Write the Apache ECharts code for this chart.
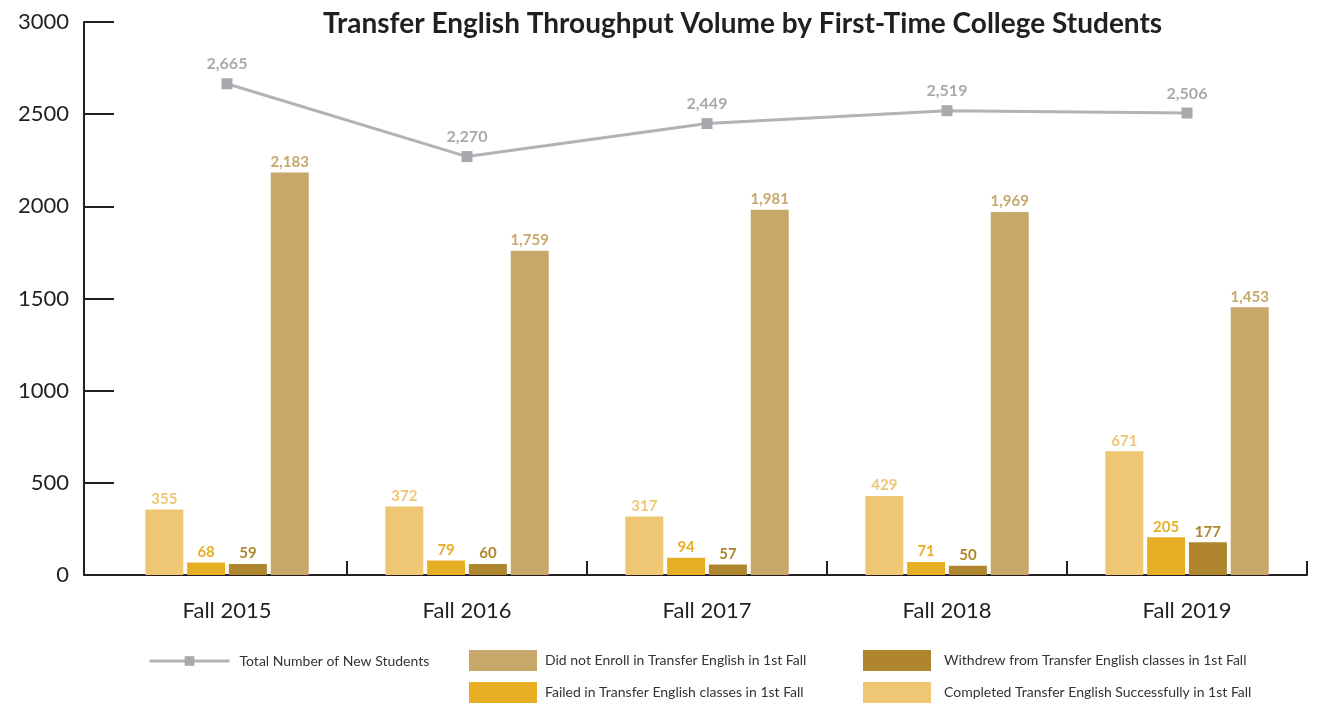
<!DOCTYPE html>
<html>
<head>
<meta charset="utf-8">
<script src="https://cdn.jsdelivr.net/npm/echarts@6/dist/echarts.min.js"></script>
<style>
  html, body { margin: 0; padding: 0; background: #fff; }
  #main { width: 1317px; height: 704px; }
</style>
</head>
<body>
<div id="main"></div>
<script>
// data
var categories = ["Fall 2015", "Fall 2016", "Fall 2017", "Fall 2018", "Fall 2019"];
var completed = [355, 372, 317, 429, 671];
var failed = [68, 79, 94, 71, 205];
var withdrew = [59, 60, 57, 50, 177];
var notEnrolled = [2183, 1759, 1981, 1969, 1453];
var totalNew = [2665, 2270, 2449, 2519, 2506];

var FONT = "Lato";
var DARK = "#231F20";

function fmt(p) { return Number(p.value).toLocaleString("en-US"); }

function barSeries(name, data, color) {
    return {
        name: name, type: "bar", xAxisIndex: 1, yAxisIndex: 1,
        data: data, barWidth: 38, barGap: "10%",
        itemStyle: { color: color },
        label: { show: true, position: "top", distance: 3, formatter: fmt,
                 color: color, fontFamily: FONT, fontWeight: "bold", fontSize: 15 }
    };
}

// legend boxes have 5px padding, so positions are shifted by it
function legendAt(name, left, top, w, h, pad) {
    return {
        data: [name], left: left - 5, top: top - 5, itemWidth: w, itemHeight: h,
        icon: w === 68 ? "rect" : undefined,
        lineStyle: { width: 3 },
        textStyle: { fontFamily: FONT, fontSize: 14, color: "#333", padding: [0, 0, 0, pad] }
    };
}

window.onload = function () {
    var chart = echarts.init(document.getElementById("main"));
    var option = {
        animation: false,
        textStyle: { fontFamily: FONT },
        title: {
            text: "Transfer English Throughput Volume by First-Time College Students",
            left: 318, top: 5,
            textStyle: { fontFamily: FONT, fontSize: 28, fontWeight: "bold", color: DARK }
        },
        legend: [
            legendAt("Total Number of New Students", 148, 654, 80, 12, 5),
            legendAt("Did not Enroll in Transfer English in 1st Fall", 469, 650, 68, 21, 3),
            legendAt("Failed in Transfer English classes in 1st Fall", 469, 682, 68, 21, 3),
            legendAt("Withdrew from Transfer English classes in 1st Fall", 863, 650, 68, 21, 8),
            legendAt("Completed Transfer English Successfully in 1st Fall", 863, 682, 68, 21, 8)
        ],
        grid: [
            { left: 84, right: 10, top: 22, bottom: 129 },
            { left: 107, right: 10, top: 22, bottom: 129 }
        ],
        xAxis: [
            { type: "value", gridIndex: 0, min: 0, max: 1,
              axisLine: { show: true, lineStyle: { color: DARK, width: 2 } },
              axisTick: { show: false }, axisLabel: { show: false }, splitLine: { show: false } },
            { type: "category", gridIndex: 1, data: categories,
              axisLine: { show: false },
              axisTick: { show: true, inside: true, length: 14,
                          interval: function (i) { return i !== 0; },
                          lineStyle: { color: DARK, width: 2 } },
              axisLabel: { fontFamily: FONT, fontSize: 22, color: DARK, margin: 25 } }
        ],
        yAxis: [
            { type: "value", gridIndex: 0, min: 0, max: 3000, interval: 500,
              axisLine: { show: true, lineStyle: { color: DARK, width: 2 } },
              axisTick: { show: true, inside: true, length: 30, lineStyle: { color: DARK, width: 2 } },
              axisLabel: { fontFamily: FONT, fontSize: 22, color: DARK, margin: 15,
                           formatter: function (v) { return String(v); } },
              splitLine: { show: false } },
            { type: "value", gridIndex: 1, min: 0, max: 3000, interval: 500, show: false,
              splitLine: { show: false } }
        ],
        series: [
            barSeries("Completed Transfer English Successfully in 1st Fall", completed, "#EFC774"),
            barSeries("Failed in Transfer English classes in 1st Fall", failed, "#E8AE24"),
            barSeries("Withdrew from Transfer English classes in 1st Fall", withdrew, "#AF852E"),
            barSeries("Did not Enroll in Transfer English in 1st Fall", notEnrolled, "#C8A76B"),
            {
                name: "Total Number of New Students", type: "line", xAxisIndex: 1, yAxisIndex: 1,
                data: totalNew, symbol: "rect", symbolSize: 11, z: 5,
                lineStyle: { color: "#B1B3B6", width: 3 },
                itemStyle: { color: "#A7A9AC" },
                label: { show: true, position: "top", distance: 6, formatter: fmt,
                         color: "#A7A9AC", fontFamily: FONT, fontWeight: "bold", fontSize: 16 }
            }
        ]
    };
    chart.setOption(option);
};
</script>
</body>
</html>
